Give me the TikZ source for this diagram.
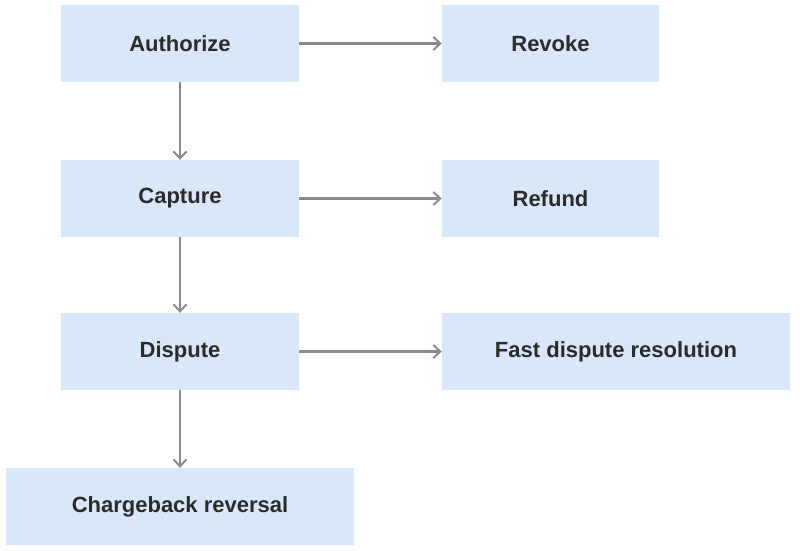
\documentclass[tikz,border=0pt]{standalone}
\usepackage{fontspec}
\setmainfont{Liberation Sans}
\usetikzlibrary{arrows.meta}
\definecolor{boxfill}{HTML}{D8E7F9}
\definecolor{txt}{HTML}{2B2B2B}
\definecolor{arr}{HTML}{8A8A8A}
\begin{document}
\begin{tikzpicture}[x=1pt,y=-1pt,
  box/.style={fill=boxfill,draw=none,text=txt,font=\fontsize{22}{26}\selectfont\bfseries},
  conn/.style={draw=arr,line width=2.2pt,-{Straight Barb[length=7pt,width=13pt,line width=2pt]}}]
\useasboundingbox (0,0) rectangle (800,550);
\newcommand{\bx}[6]{\fill[boxfill] (#2,#3) rectangle (#4,#5); \node[box,fill=none] (#1) at ({(#2+#4)/2},{(#3+#5)/2}) [minimum width={#4-#2},minimum height={#5-#3}] {#6};}
\node[box,minimum width=238pt,minimum height=77pt] (auth) at (180,43.5) {Authorize};
\node[box,minimum width=217pt,minimum height=77pt] (rev) at (550.5,43.5) {Revoke};
\node[box,minimum width=238pt,minimum height=77pt] (cap) at (180,198.5) {Capture};
\node[box,minimum width=217pt,minimum height=77pt] (ref) at (550.5,198.5) {Refund};
\node[box,minimum width=238pt,minimum height=77pt] (dis) at (180,351.5) {Dispute};
\node[box,minimum width=348pt,minimum height=77pt] (fast) at (616,351.5) {Fast dispute resolution};
\node[box,minimum width=348pt,minimum height=77pt] (cb) at (180,506.5) {Chargeback reversal};
\draw[conn] (auth.east) -- (rev.west);
\draw[conn] (cap.east) -- (ref.west);
\draw[conn] (dis.east) -- (fast.west);
\draw[conn] (auth.south) -- (cap.north);
\draw[conn] (cap.south) -- (dis.north);
\draw[conn] (dis.south) -- (cb.north);
\end{tikzpicture}
\end{document}
